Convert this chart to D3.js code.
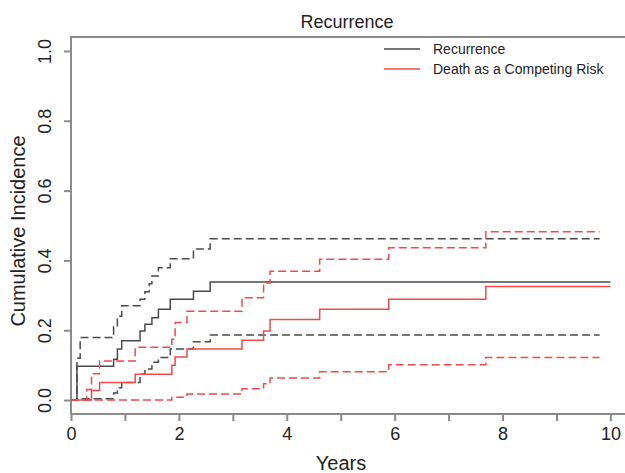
<!DOCTYPE html>
<html>
<head>
<meta charset="utf-8">
<script src="https://cdn.jsdelivr.net/npm/d3@7/dist/d3.min.js"></script>
<style>
  body { margin: 0; background: #fff; }
  text { font-family: "Liberation Sans", Arial, Helvetica, sans-serif; }
</style>
</head>
<body>
<svg id="chart" width="625" height="473"></svg>
<script>
// ---- Data ----
const recurrenceTimes = [0, 0.11, 0.79, 0.86, 0.94, 1.28, 1.37, 1.50, 1.62, 1.84, 2.27, 2.58, 10];
const recurrenceEst   = [0, 0.097, 0.117, 0.146, 0.17, 0.198, 0.217, 0.236, 0.26, 0.289, 0.312, 0.338, 0.338];

const recurrenceUpperTimes = [0, 0.11, 0.17, 0.79, 0.86, 0.94, 1.28, 1.37, 1.45, 1.50, 1.62, 1.84, 2.27, 2.58, 9.8];
const recurrenceUpper      = [0, 0.12, 0.179, 0.21, 0.24, 0.27, 0.289, 0.31, 0.333, 0.355, 0.379, 0.405, 0.433, 0.462, 0.462];

const recurrenceLowerTimes = [0, 0.11, 0.79, 0.86, 0.94, 1.28, 1.37, 1.50, 1.62, 1.84, 2.27, 2.58, 9.8];
const recurrenceLower      = [0, 0.004, 0.02, 0.035, 0.05, 0.074, 0.089, 0.108, 0.122, 0.146, 0.167, 0.186, 0.186];

const deathTimes = [0, 0.38, 0.53, 1.19, 1.87, 1.93, 2.15, 3.17, 3.57, 3.69, 4.61, 5.89, 7.69, 10];
const deathEst   = [0, 0.027, 0.05, 0.074, 0.10, 0.123, 0.146, 0.171, 0.198, 0.231, 0.26, 0.289, 0.325, 0.325];

const deathUpperTimes = [0, 0.29, 0.38, 0.53, 1.19, 1.87, 1.93, 2.15, 3.17, 3.57, 3.69, 4.61, 5.89, 7.69, 9.8];
const deathUpper      = [0, 0.03, 0.075, 0.112, 0.151, 0.174, 0.222, 0.254, 0.293, 0.335, 0.369, 0.403, 0.436, 0.482, 0.482];

const deathLowerTimes = [0, 1.87, 2.15, 3.17, 3.57, 3.69, 4.61, 5.89, 7.69, 9.8];
const deathLower      = [0, 0.008, 0.017, 0.032, 0.047, 0.063, 0.081, 0.101, 0.122, 0.122];

const xTicks = [0, 1, 2, 3, 4, 5, 6, 7, 8, 9, 10];
const yTicks = [0, 0.2, 0.4, 0.6, 0.8, 1.0];
const legendLabels = ["Recurrence", "Death as a Competing Risk"];

(function () {
  // ---- Layout ----
  const svg = d3.select("#chart");
  const mLeft = 71, mRight = 632, mTop = 37, mBottom = 414;
  const x = d3.scaleLinear().domain([0, 10.4]).range([mLeft, mRight]);
  const y = d3.scaleLinear().domain([-0.04, 1.04]).range([mBottom, mTop]);

  const axisColor = "#8a8a8a";
  const black = "#4a4a4a";
  const red = "#f04a48";

  // frame (box)
  svg.append("rect")
    .attr("x", mLeft).attr("y", mTop)
    .attr("width", mRight - mLeft).attr("height", mBottom - mTop)
    .attr("fill", "none").attr("stroke", axisColor).attr("stroke-width", 2);

  // x axis
  const xAxis = d3.axisBottom(x).tickValues(xTicks)
    .tickFormat(d => d % 2 === 0 ? d3.format("d")(d) : "")
    .tickSize(7).tickPadding(6);
  const gx = svg.append("g").attr("transform", `translate(0,${mBottom})`).call(xAxis);
  gx.select(".domain").remove();
  gx.selectAll("line").attr("stroke", axisColor).attr("stroke-width", 2);
  gx.selectAll("text").attr("font-size", 18).attr("fill", "#222");

  // y axis
  const yAxis = d3.axisLeft(y).tickValues(yTicks).tickFormat(d3.format(".1f"))
    .tickSize(7).tickPadding(6);
  const gy = svg.append("g").attr("transform", `translate(${mLeft},0)`).call(yAxis);
  gy.select(".domain").remove();
  gy.selectAll("line").attr("stroke", axisColor).attr("stroke-width", 2);
  gy.selectAll("text")
    .attr("font-size", 18).attr("fill", "#222")
    .attr("text-anchor", "middle")
    .attr("x", 0).attr("y", -26).attr("dy", 0)
    .attr("dominant-baseline", "central")
    .attr("transform", "rotate(-90)");

  // lines
  const line = d3.line().x(d => x(d[0])).y(d => y(d[1])).curve(d3.curveStepAfter);
  const series = [
    {t: recurrenceTimes, v: recurrenceEst, color: black, dash: null},
    {t: recurrenceUpperTimes, v: recurrenceUpper, color: black, dash: "8,4"},
    {t: recurrenceLowerTimes, v: recurrenceLower, color: black, dash: "8,4"},
    {t: deathTimes, v: deathEst, color: red, dash: null},
    {t: deathUpperTimes, v: deathUpper, color: red, dash: "8,4"},
    {t: deathLowerTimes, v: deathLower, color: red, dash: "8,4"}
  ];
  series.forEach(s => {
    svg.append("path")
      .attr("d", line(s.t.map((tt, i) => [tt, s.v[i]])))
      .attr("fill", "none")
      .attr("stroke", s.color)
      .attr("stroke-width", 1.5)
      .attr("stroke-dasharray", s.dash);
  });

  // title
  svg.append("text").attr("x", 347).attr("y", 28).attr("text-anchor", "middle")
    .attr("font-size", 18).attr("fill", "#222").text("Recurrence");

  // axis titles
  svg.append("text").attr("x", 341).attr("y", 470).attr("text-anchor", "middle")
    .attr("font-size", 20).attr("fill", "#222").text("Years");
  svg.append("text").attr("transform", "translate(25,231) rotate(-90)")
    .attr("text-anchor", "middle").attr("font-size", 20).attr("fill", "#222")
    .text("Cumulative Incidence");

  // legend
  const legendColors = [black, red];
  legendLabels.forEach((lab, i) => {
    const ly = 49 + i * 20;
    svg.append("line").attr("x1", 384).attr("x2", 420).attr("y1", ly).attr("y2", ly)
      .attr("stroke", legendColors[i]).attr("stroke-width", 1.5);
    svg.append("text").attr("x", 433).attr("y", ly).attr("dy", "0.35em")
      .attr("font-size", 14).attr("fill", "#222").text(lab);
  });
})();
</script>
</body>
</html>
